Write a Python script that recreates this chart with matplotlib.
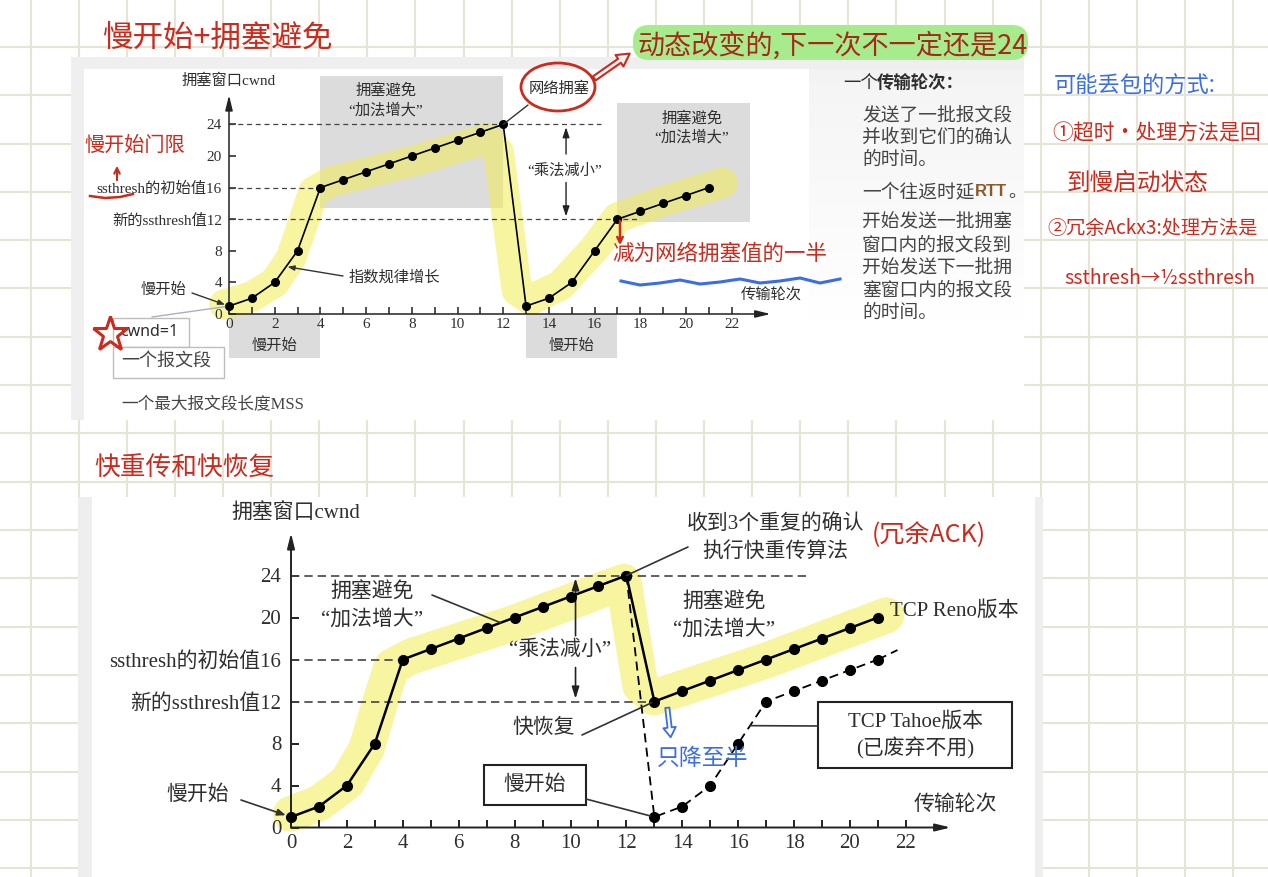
import matplotlib
matplotlib.use('Agg')
import matplotlib.pyplot as plt
from matplotlib.patches import Rectangle, FancyBboxPatch, Ellipse
import numpy as np

plt.rcParams['font.family'] = ['Liberation Serif', 'Noto Sans CJK SC']

W, H = 1268, 877

# ---- values ----
rounds_top = list(range(22))
cwnd_top = [1, 2, 4, 8, 16, 17, 18, 19, 20, 21, 22, 23, 24, 1, 2, 4, 8, 12, 13, 14, 15, 16]

rounds_reno = list(range(22))
cwnd_reno = [1, 2, 4, 8, 16, 17, 18, 19, 20, 21, 22, 23, 24, 12, 13, 14, 15, 16, 17, 18, 19, 20]

rounds_tahoe = list(range(12, 22))
cwnd_tahoe = [24, 1, 2, 4, 8, 12, 13, 14, 15, 16]
tahoe_tail_x = [21, 21.7]
tahoe_tail_y = [16, 16.9]

x_ticks = list(range(0, 23, 2))
y_ticks = [0, 4, 8, 12, 16, 20, 24]
y_labels = ['0', '4', '8', '新的ssthresh值12', 'ssthresh的初始值16', '20', '24']

# (level, end round) of the dashed guide lines
guides_top = [(24, 16.3), (16, 4), (12, 18)]
guides_bottom = [(24, 18.5), (16, 4), (12, 13)]

# highlighter strokes (data coords of each chart)
hl_top_x = [-0.2, 1, 2, 2.7, 3.3, 3.7, 4.5, 8, 11.3, 11.8, 12.6, 13.2, 14.5, 16, 17, 19, 21.6]
hl_top_y = [1.2, 2.2, 4, 7, 12, 15.5, 16.8, 19.3, 22.2, 20.5, 3, 1.8, 3.6, 8.3, 12.2, 14.3, 16.6]
hl_bot_x = [0, 1, 2, 2.7, 3.2, 3.6, 4.3, 8, 11.9, 12.1, 12.5, 13, 17, 21.3]
hl_bot_y = [1.3, 2.3, 4.3, 7.5, 12, 15.3, 16.3, 19.5, 23.4, 20, 13.5, 12.4, 15.9, 20.2]

RED = '#cc2a1c'
BLUE = '#3b6de6'
INK = '#2e2e2e'
HAND = ['Noto Sans CJK SC', 'DejaVu Sans']

fig = plt.figure(figsize=(W / 100, H / 100), dpi=100)

# background (pixel coordinates)
bg = fig.add_axes([0, 0, 1, 1], zorder=0)
bg.set_facecolor('#f6f4e8')
for gx in np.arange(30.6, W, 48.1):
    bg.axvline(gx, color='#e6e4d5', lw=1.5, zorder=0)
for gy in np.arange(-1.3, H, 48.3):
    bg.axhline(gy, color='#e6e4d5', lw=1.5, zorder=0)

bg.add_patch(Rectangle((71, 57), 953, 363, color='#efefef', lw=0, zorder=1))
bg.add_patch(Rectangle((84, 69), 940, 351, color='white', lw=0, zorder=1))
bg.imshow(np.linspace(0.955, 1.0, 60).reshape(-1, 1), cmap='gray', vmin=0, vmax=1,
          extent=(809, 1024, 350, 69), aspect='auto', zorder=1.5)
bg.add_patch(Rectangle((78, 497), 965, 380, color='#eeeeee', lw=0, zorder=1))
bg.add_patch(Rectangle((92, 497), 943, 380, color='white', lw=0, zorder=1))
bg.set_xlim(0, W)
bg.set_ylim(H, 0)
bg.axis('off')


def chart_axes(x0, y0, ux, uy, xmax, ymax):
    ax = fig.add_axes([x0 / W, 1 - y0 / H, ux * xmax / W, uy * ymax / H], zorder=2)
    ax.set_xlim(0, xmax)
    ax.set_ylim(0, ymax)
    ax.patch.set_alpha(0)
    return ax


def style_axes(ax, xend, yend, fs, ticklen, lw, xpad, ypad):
    for s in ax.spines.values():
        s.set_visible(False)
    arrow = dict(arrowstyle='-|>,head_width=0.22,head_length=0.9', color='#222', lw=lw,
                 shrinkA=0, shrinkB=0)
    ax.annotate('', xy=(xend, 0), xytext=(0, 0), arrowprops=arrow, annotation_clip=False)
    ax.annotate('', xy=(0, yend), xytext=(0, 0), arrowprops=arrow, annotation_clip=False)
    ax.set_xticks(x_ticks)
    ax.set_xticklabels([str(v) for v in x_ticks])
    ax.set_xticks(range(0, 23), minor=True)
    ax.set_yticks(y_ticks)
    ax.set_yticklabels(y_labels)
    ax.tick_params(which='both', direction='in', length=ticklen, width=lw, color='#222',
                   labelsize=fs, labelcolor=INK)
    ax.tick_params(axis='x', pad=xpad)
    ax.tick_params(axis='y', pad=ypad)


def ptext(ax, x, y, s, fs, **kw):
    kw.setdefault('ha', 'center')
    kw.setdefault('va', 'center')
    kw.setdefault('color', INK)
    return ax.text(x, y, s, fontsize=fs, transform=bg.transData, zorder=6, **kw)


def pointer(ax, xy, xytext, style='-', lw=1.0, shrink=3):
    ax.annotate('', xy=xy, xycoords='data', xytext=xytext, textcoords=bg.transData,
                arrowprops=dict(arrowstyle=style, color='#333', lw=lw, shrinkA=0, shrinkB=shrink),
                annotation_clip=False, zorder=5)


# ================= top chart: slow start + congestion avoidance =================
ax1 = chart_axes(229, 314, 22.85, 7.9, 24.5, 28.5)
style_axes(ax1, 23.7, 27.7, 11, 5, 1.1, 3, 5)

ax1.add_patch(Rectangle((4, 13.4), 8, 16.7, color='#dcdcdc', lw=0, zorder=0, clip_on=False))
ax1.add_patch(Rectangle((17, 11.6), 5.8, 15.1, color='#dcdcdc', lw=0, zorder=0, clip_on=False))
ax1.add_patch(Rectangle((0, -5.6), 4, 5.6, color='#dcdcdc', lw=0, zorder=0, clip_on=False))
ax1.add_patch(Rectangle((13, -5.6), 4, 5.6, color='#dcdcdc', lw=0, zorder=0, clip_on=False))

for level, end in guides_top:
    ax1.plot([0, end], [level, level], color='#444', lw=0.9, dashes=(4, 3), zorder=2, clip_on=False)

ax1.plot(hl_top_x, hl_top_y, color='#f3ee55', alpha=0.55, lw=22, solid_capstyle='round',
         solid_joinstyle='round', zorder=1, clip_on=False)
ax1.plot(rounds_top, cwnd_top, color='black', lw=1.2, marker='o', ms=5.5, zorder=3, clip_on=False)

# vertical "乘法减小" arrows
ax1.annotate('', xy=(14.75, 24), xytext=(14.75, 19.9),
             arrowprops=dict(arrowstyle='-|>,head_width=0.2,head_length=0.6', color='#222', lw=1))
ax1.annotate('', xy=(14.75, 12), xytext=(14.75, 17),
             arrowprops=dict(arrowstyle='-|>,head_width=0.2,head_length=0.6', color='#222', lw=1))

ptext(ax1, 229, 81, '拥塞窗口cwnd', 11)
ptext(ax1, 386, 90, '拥塞避免', 11)
ptext(ax1, 386, 110, '“加法增大”', 11)
ptext(ax1, 559, 89, '网络拥塞', 11)
ptext(ax1, 565, 170, '“乘法减小”', 11)
ptext(ax1, 692, 118, '拥塞避免', 11)
ptext(ax1, 692, 137, '“加法增大”', 11)
ptext(ax1, 771, 295, '传输轮次', 11)
ptext(ax1, 163, 290, '慢开始', 11)
ptext(ax1, 349, 277, '指数规律增长', 11, ha='left')
ptext(ax1, 274.7, 346, '慢开始', 11)
ptext(ax1, 571.7, 346, '慢开始', 11)
pointer(ax1, (0, 1), (192, 293), style='-|>,head_width=0.15,head_length=0.4')
pointer(ax1, (2.5, 6), (343, 276), style='-|>,head_width=0.15,head_length=0.4', shrink=1)
pointer(ax1, (12, 24), (528, 105), shrink=0)

# cwnd = 1 boxes
bg.add_patch(Rectangle((113, 318), 76, 29, fc='white', ec='#bdbdbd', lw=1, zorder=3))
bg.add_patch(Rectangle((113, 347), 111, 31, fc='white', ec='#bdbdbd', lw=1, zorder=3))
ptext(bg, 120, 332, 'cwnd=1', 11.5, ha='left', family=['Noto Sans', 'DejaVu Sans'])
ptext(bg, 121, 362, '一个报文段', 13, ha='left', color='#444')
ptext(bg, 121, 405, '一个最大报文段长度MSS', 12, ha='left', color='#444')
ax1.annotate('', xy=(0, 1), xycoords='data', xytext=(152, 317), textcoords=bg.transData,
             arrowprops=dict(arrowstyle='-', color='#aab0c0', lw=1, shrinkA=0, shrinkB=3),
             annotation_clip=False)

# right explanation pane
ptext(bg, 843, 84, '一个', 12.5, ha='left')
ptext(bg, 877, 84, '传输轮次：', 12.5, ha='left', weight='bold')
pane_lines = [(116, '发送了一批报文段'), (138, '并收到它们的确认'), (160, '的时间。'),
              (223, '开始发送一批拥塞'), (246, '窗口内的报文段到'), (269, '开始发送下一批拥'),
              (291, '塞窗口内的报文段'), (313, '的时间。')]
for py, s in pane_lines:
    ptext(bg, 862, py, s, 13.5, ha='left', color='#444')
ptext(bg, 862, 192, '一个往返时延', 13.5, ha='left', color='#444')
ptext(bg, 975, 192, 'RTT', 12, ha='left', color='#8a5a2b', weight='bold',
      family=['Liberation Sans', 'DejaVu Sans'])
ptext(bg, 1008, 192, '。', 13, ha='left', color='#444')

# ================= bottom chart: fast retransmit + fast recovery =================
ax2 = chart_axes(291, 827.5, 27.95, 10.5, 24.5, 29)
style_axes(ax2, 23.6, 28.05, 15, 6, 1.4, 5, 7)

for level, end in guides_bottom:
    ax2.plot([0, end], [level, level], color='#444', lw=1.2, dashes=(5, 3), zorder=2, clip_on=False)

ax2.plot(hl_bot_x, hl_bot_y, color='#f3ee55', alpha=0.55, lw=26, solid_capstyle='round',
         solid_joinstyle='round', zorder=1, clip_on=False)
ax2.plot(rounds_tahoe, cwnd_tahoe, color='black', lw=1.3, ls='--', dashes=(5, 3),
         marker='o', ms=7, zorder=3, clip_on=False)
ax2.plot(tahoe_tail_x, tahoe_tail_y, color='black', lw=1.3, dashes=(5, 3), zorder=3, clip_on=False)
ax2.plot(rounds_reno, cwnd_reno, color='black', lw=1.8, marker='o', ms=7, zorder=4, clip_on=False)

ax2.annotate('', xy=(10.18, 24), xytext=(10.18, 18),
             arrowprops=dict(arrowstyle='-|>,head_width=0.22,head_length=0.7', color='#222', lw=1.2))
ax2.annotate('', xy=(10.18, 12), xytext=(10.18, 15.5),
             arrowprops=dict(arrowstyle='-|>,head_width=0.22,head_length=0.7', color='#222', lw=1.2))

ptext(ax2, 296, 513, '拥塞窗口cwnd', 15)
ptext(ax2, 372, 593, '拥塞避免', 15)
ptext(ax2, 372, 620, '“加法增大”', 15)
ptext(ax2, 560, 650, '“乘法减小”', 15)
ptext(ax2, 544, 728, '快恢复', 15)
ptext(ax2, 198, 795, '慢开始', 15)
ptext(ax2, 775, 525, '收到3个重复的确认', 15)
ptext(ax2, 775, 552, '执行快重传算法', 15)
ptext(ax2, 724, 603, '拥塞避免', 15)
ptext(ax2, 724, 630, '“加法增大”', 15)
ptext(ax2, 890, 611, 'TCP Reno版本', 15, ha='left')
ptext(ax2, 955, 805, '传输轮次', 15)

bg.add_patch(Rectangle((484, 765), 102, 40, fc='white', ec='#222', lw=1.5, zorder=3))
ptext(ax2, 535, 785, '慢开始', 15)
bg.add_patch(Rectangle((818, 702), 194, 66, fc='white', ec='#222', lw=1.5, zorder=3))
ptext(ax2, 915, 722, 'TCP Tahoe版本', 15)
ptext(ax2, 915, 748, '(已废弃不用)', 15)

pointer(ax2, (7.5, 19.5), (432, 595), lw=1.2, shrink=0)
pointer(ax2, (13, 12), (582, 735), lw=1.2, shrink=2)
pointer(ax2, (13, 1), (586, 799), lw=1.2, shrink=3)
pointer(ax2, (0, 1), (241, 800), style='-|>,head_width=0.2,head_length=0.5', lw=1.2, shrink=4)
pointer(ax2, (12, 24), (688, 547), lw=1.2, shrink=0)
pointer(ax2, (16.42, 9.7), (818, 726), lw=1.2, shrink=0)

# ================= handwritten notes (overlay, pixel coordinates) =================
fg = fig.add_axes([0, 0, 1, 1], zorder=10)
fg.patch.set_alpha(0)
fg.set_xlim(0, W)
fg.set_ylim(H, 0)
fg.axis('off')

fg.text(102, 38, '慢开始+拥塞避免', fontsize=22, color=RED, family=HAND, va='center')
fg.add_patch(FancyBboxPatch((633, 25), 395, 35, boxstyle='round,pad=0,rounding_size=16',
                            fc='#a6ec8c', ec='none', zorder=1))
fg.text(638, 46, '动态改变的,下一次不一定还是24', fontsize=19.5, color='#a8271b', family=HAND,
        va='center', zorder=2)
fg.annotate('', xy=(632, 52), xytext=(592, 80),
            arrowprops=dict(arrowstyle='simple,head_width=1.0,head_length=0.9,tail_width=0.35',
                            fc='none', ec=RED, lw=1.5))
fg.add_patch(Ellipse((558, 87), 74, 48, fill=False, ec=RED, lw=2))

fg.text(84, 145, '慢开始门限', fontsize=14.5, color=RED, family=HAND, va='center')
fg.annotate('', xy=(117, 163), xytext=(117, 183),
            arrowprops=dict(arrowstyle='->', color=RED, lw=1.5))
fg.plot([90, 105, 120, 133], [196, 198, 197, 194], color=RED, lw=1.8)
fg.plot([110], [334], marker='*', ms=26, mfc='none', mec=RED, mew=2.2)

fg.annotate('', xy=(620, 248), xytext=(620, 218),
            arrowprops=dict(arrowstyle='->', color=RED, lw=1.8))
fg.text(612, 254, '减为网络拥塞值的一半', fontsize=15.5, color=RED, family=HAND, va='center')
wave_x = [621, 640, 660, 680, 700, 720, 740, 760, 780, 800, 820, 840]
wave_y = [281, 285, 283, 280, 284, 282, 279, 283, 281, 278, 283, 279]
fg.plot(wave_x, wave_y, color=BLUE, lw=2.2)

fg.text(1054, 86, '可能丢包的方式:', fontsize=16, color=BLUE, family=HAND, va='center')
fg.text(1052, 133, '①超时·处理方法是回', fontsize=15, color=RED, family=HAND, va='center')
fg.text(1067, 183, '到慢启动状态', fontsize=17, color=RED, family=HAND, va='center')
fg.text(1047, 228, '②冗余Ackx3:处理方法是', fontsize=13.8, color=RED, family=HAND, va='center')
fg.text(1064, 278, 'ssthresh→½ssthresh', fontsize=14, color=RED, family=HAND, va='center')

fg.text(94, 469, '快重传和快恢复', fontsize=18.5, color=RED, family=HAND, va='center')
fg.text(872, 535, '(冗余ACK)', fontsize=18, color=RED, family=HAND, va='center')
fg.annotate('', xy=(671, 740), xytext=(667, 705),
            arrowprops=dict(arrowstyle='simple,head_width=0.9,head_length=0.7,tail_width=0.3',
                            fc='none', ec=BLUE, lw=1.3))
fg.text(657, 758, '只降至半', fontsize=16.5, color=BLUE, family=HAND, va='center')

fig.savefig('out.png', dpi=100)
